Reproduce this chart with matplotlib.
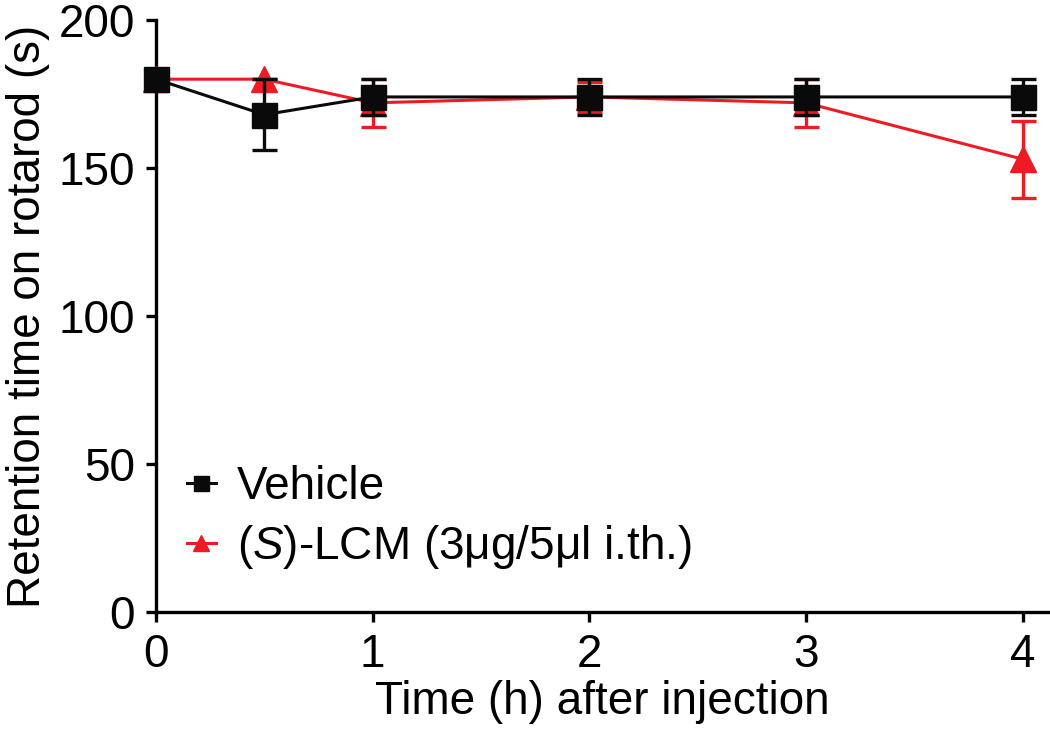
import matplotlib
matplotlib.use("Agg")
import matplotlib.pyplot as plt

plt.rcParams['font.family'] = ['Liberation Sans', 'DejaVu Sans']
plt.rcParams['mathtext.fontset'] = 'custom'
plt.rcParams['mathtext.rm'] = 'Liberation Sans'
plt.rcParams['mathtext.it'] = 'Liberation Sans:italic'

# --- DATA ---
time_h = [0, 0.5, 1, 2, 3, 4]
vehicle_mean = [180, 168, 174, 174, 174, 174]
vehicle_sem = [0, 12, 6, 6, 6, 6]
lcm_mean = [180, 180, 172, 174, 172, 153]
lcm_sem = [0, 0, 8, 5, 8, 13]

RED = '#ED1C24'
FS = 33

fig = plt.figure(figsize=(10.5, 7.4), dpi=100)
ax = fig.add_axes([0.1486, 0.173, 0.85, 0.8])

# red series first so the black one sits on top
lcm = ax.errorbar(time_h, lcm_mean, yerr=lcm_sem, color=RED, marker='^', markersize=19,
                  linewidth=2.2, elinewidth=2.4, capsize=9, capthick=2.4, clip_on=False,
                  zorder=3)
veh = ax.errorbar(time_h, vehicle_mean, yerr=vehicle_sem, color='#0a0a0a', marker='s',
                  markersize=18, linewidth=2.2, elinewidth=2.4, capsize=9, capthick=2.4,
                  clip_on=False, zorder=4)

ax.set_xlim(0, 4.12)
ax.set_ylim(0, 200)
ax.set_xticks([0, 1, 2, 3, 4])
ax.set_yticks([0, 50, 100, 150, 200])

for side in ['top', 'right']:
    ax.spines[side].set_visible(False)
for side in ['left', 'bottom']:
    ax.spines[side].set_linewidth(2.4)
ax.tick_params(width=2.4, length=7, labelsize=FS, pad=8)

ax.set_xlabel('Time (h) after injection', fontsize=FS, labelpad=2)
ax.set_ylabel('Retention time on rotarod (s)', fontsize=FS, labelpad=6)

ax.legend([veh[0], lcm[0]], ['Vehicle', r'($\mathit{S}$)-LCM (3μg/5μl i.th.)'],
          loc='lower left', bbox_to_anchor=(-0.012, 0.0), frameon=False, fontsize=FS,
          handlelength=0.65, handletextpad=0.45, labelspacing=0.3, markerscale=0.6)

fig.savefig('out.png', dpi=100)
